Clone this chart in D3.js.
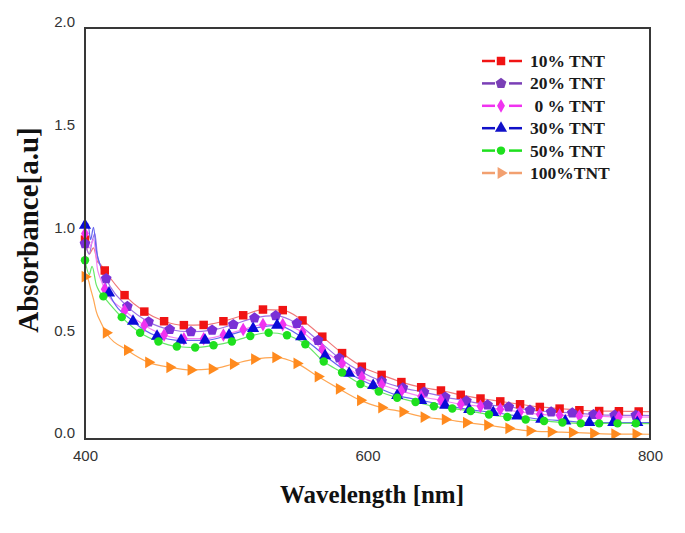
<!DOCTYPE html>
<html><head><meta charset="utf-8">
<script src="https://cdn.jsdelivr.net/npm/d3@7"></script>
<style>body{margin:0;background:#fff} svg{display:block}</style>
</head><body><svg id="c" width="685" height="533"></svg>
<script>
// ---------- data ----------
const seriesNames = ["10% TNT", "20% TNT", " 0 % TNT", "30% TNT", "50% TNT", "100%TNT"];
const xTickValues = [400, 600, 800];
const xTickLabels = ["400", "600", "800"];
const yTickValues = [0, 0.5, 1, 1.5, 2];
const yTickLabels = ["0.0", "0.5", "1.0", "1.5", "2.0"];

// 10% TNT
const wl10 = [400,414,428,442,456,470,484,498,512,526,540,554,568,582,596,610,624,638,652,666,680,694,708,722,736,750,764,778,792];
const ab10 = [0.97,0.82,0.70,0.62,0.573,0.554,0.555,0.573,0.602,0.63,0.627,0.577,0.498,0.418,0.352,0.312,0.277,0.252,0.236,0.215,0.197,0.183,0.169,0.156,0.148,0.140,0.136,0.135,0.134];
const head10 = [[403,0.90],[406,0.93],[409,0.86],[411,0.85]];
const tail10 = [800,0.133];
// 20% TNT
const wl20 = [400,415,430,445,460,475,490,505,520,535,550,565,580,595,610,625,640,655,670,685,700,715,730,745,760,775,790];
const ab20 = [0.95,0.78,0.645,0.57,0.533,0.522,0.53,0.557,0.589,0.60,0.562,0.48,0.394,0.328,0.281,0.249,0.228,0.204,0.185,0.166,0.156,0.14,0.132,0.127,0.119,0.116,0.115];
const head20 = [[403,0.90],[405,0.96],[407,1.0],[409,0.88],[412,0.83]];
const tail20 = [800,0.114];
// 0 % TNT
const wl0 = [400,414,428,442,456,470,484,498,512,526,540,554,568,582,596,610,624,638,652,666,680,694,708,722,736,750,764,778,792];
const ab0 = [1.00,0.729,0.625,0.553,0.506,0.488,0.488,0.506,0.533,0.557,0.557,0.52,0.437,0.368,0.30,0.264,0.233,0.207,0.188,0.169,0.159,0.145,0.132,0.12,0.116,0.112,0.111,0.107,0.107];
const head0 = [[403,0.93],[406,0.97],[409,0.82],[411,0.78]];
const tail0 = [800,0.106];
// 30% TNT
const wl30 = [400,417,434,451,468,485,502,519,536,553,570,587,604,621,638,655,672,689,706,723,740,757,774,791];
const ab30 = [1.04,0.71,0.573,0.50,0.48,0.48,0.506,0.538,0.553,0.498,0.405,0.32,0.26,0.212,0.188,0.164,0.143,0.129,0.112,0.096,0.088,0.08,0.08,0.08];
const head30 = [[402,1.05],[404,0.97],[406,1.03],[408,0.92],[411,0.84],[414,0.77]];
const tail30 = [800,0.08];
// 50% TNT
const wl50 = [400,413,426,439,452,465,478,491,504,517,530,543,556,569,582,595,608,621,634,647,660,673,686,699,712,725,738,751,764,777,790];
const ab50 = [0.87,0.694,0.593,0.517,0.474,0.45,0.445,0.456,0.474,0.501,0.517,0.505,0.461,0.377,0.324,0.268,0.231,0.201,0.18,0.159,0.148,0.136,0.119,0.107,0.095,0.088,0.08,0.076,0.076,0.076,0.076];
const head50 = [[403,0.80],[405,0.84],[408,0.75],[410,0.72]];
const tail50 = [800,0.075];
// 100% TNT
const wl100 = [400,415,430,445,460,475,490,505,520,535,550,565,580,595,610,625,640,655,670,685,700,715,730,745,760,775,790];
const ab100 = [0.79,0.517,0.432,0.373,0.349,0.336,0.341,0.365,0.389,0.397,0.368,0.304,0.244,0.188,0.153,0.132,0.107,0.095,0.08,0.067,0.052,0.04,0.035,0.032,0.027,0.024,0.024];
const head100 = [[402,0.78],[404,0.73],[406,0.68],[408,0.62],[411,0.57]];
const tail100 = [800,0.023];

// ---------- styles ----------
const markerColors = ["#f01414", "#7a2fd6", "#f032f0", "#0a0ad8", "#1ee01e", "#ff8a1e"];
const lineColors   = ["#f07878", "#9e72e6", "#f484f4", "#6464f0", "#66e866", "#ffa652"];
const legendColors = ["#f01414", "#7a3fb6", "#f032f0", "#1010c8", "#1ee01e", "#f2a070"];

const pentagon = {
  draw(ctx, size) {
    const r = Math.sqrt(size / 2.378);
    for (let i = 0; i < 5; i++) {
      const a = -Math.PI / 2 + i * 2 * Math.PI / 5;
      const px = r * Math.cos(a), py = r * Math.sin(a);
      if (i === 0) ctx.moveTo(px, py); else ctx.lineTo(px, py);
    }
    ctx.closePath();
  }
};
const symbolTypes = [d3.symbolSquare, pentagon, d3.symbolDiamond, d3.symbolTriangle, d3.symbolCircle, d3.symbolTriangle];
const symbolSizes = [72, 76, 54, 64, 56, 60];
const symbolRot = [0, 0, 0, 0, 0, 90];

const wls = [wl10, wl20, wl0, wl30, wl50, wl100];
const abs = [ab10, ab20, ab0, ab30, ab50, ab100];
const heads = [head10, head20, head0, head30, head50, head100];
const tails = [tail10, tail20, tail0, tail30, tail50, tail100];

// ---------- chart ----------
const svg = d3.select("#c");
const x = d3.scaleLinear().domain([400, 800]).range([85, 650]);
const y = d3.scaleLinear().domain([0, 2]).range([439, 28]);

const tickFont = "'Liberation Sans', Arial, sans-serif";
const titleFont = "'Liberation Serif', 'Times New Roman', serif";

// axes (labels only)
const gy = svg.append("g").attr("transform", `translate(${x.range()[0]},0)`)
  .call(d3.axisLeft(y).tickValues(yTickValues).tickFormat((d, i) => yTickLabels[i]).tickSize(0).tickPadding(10));
gy.select(".domain").remove();
gy.selectAll("text").attr("dy", "-0.08em").attr("fill", "#333").style("font-family", tickFont).style("font-size", "15px");

const gx = svg.append("g").attr("transform", `translate(0,${y.range()[0]})`)
  .call(d3.axisBottom(x).tickValues(xTickValues).tickFormat((d, i) => xTickLabels[i]).tickSize(0).tickPadding(11));
gx.select(".domain").remove();
gx.selectAll("text").attr("fill", "#333").style("font-family", tickFont).style("font-size", "15px");

// series
const line = d3.line().x(d => x(d[0])).y(d => y(d[1])).curve(d3.curveMonotoneX);
wls.forEach((w, s) => {
  const pts = w.map((v, i) => [v, abs[s][i]]);
  const linePts = [pts[0]].concat(heads[s], pts.slice(1), [tails[s]]);
  svg.append("path").attr("d", line(linePts)).attr("fill", "none")
    .attr("stroke", lineColors[s]).attr("stroke-width", 1.2);
});
wls.forEach((w, s) => {
  const sym = d3.symbol().type(symbolTypes[s]).size(symbolSizes[s]);
  svg.append("g").selectAll("path").data(w.map((v, i) => [v, abs[s][i]])).join("path")
    .attr("d", sym)
    .attr("transform", d => `translate(${x(d[0])},${y(d[1])}) rotate(${symbolRot[s]})`)
    .attr("fill", markerColors[s]);
});

// frame
svg.append("rect").attr("x", x.range()[0]).attr("y", y.range()[1])
  .attr("width", x.range()[1] - x.range()[0]).attr("height", y.range()[0] - y.range()[1])
  .attr("fill", "none").attr("stroke", "#383838").attr("stroke-width", 2);

// titles
svg.append("text").attr("x", 372).attr("y", 503).attr("text-anchor", "middle")
  .style("font-family", titleFont).style("font-weight", "bold").style("font-size", "25px")
  .attr("fill", "#111").text("Wavelength [nm]");
svg.append("text").attr("transform", "translate(38,230) rotate(-90)").attr("text-anchor", "middle")
  .style("font-family", titleFont).style("font-weight", "bold").style("font-size", "29px")
  .attr("fill", "#111").text("Absorbance[a.u]");

// legend
const lg = svg.append("g");
seriesNames.forEach((name, s) => {
  const ly = 61 + s * 22.4;
  const g = lg.append("g");
  g.append("line").attr("x1", 482).attr("x2", 495).attr("y1", ly).attr("y2", ly)
    .attr("stroke", legendColors[s]).attr("stroke-width", 2.5);
  g.append("line").attr("x1", 509).attr("x2", 522).attr("y1", ly).attr("y2", ly)
    .attr("stroke", legendColors[s]).attr("stroke-width", 2.5);
  g.append("path").attr("d", d3.symbol().type(symbolTypes[s]).size(symbolSizes[s])())
    .attr("transform", `translate(501,${ly}) rotate(${symbolRot[s]})`).attr("fill", legendColors[s]);
  g.append("text").attr("x", 530).attr("y", ly + 6).attr("xml:space", "preserve")
    .style("white-space", "pre")
    .style("font-family", titleFont).style("font-weight", "bold").style("font-size", "17.5px")
    .attr("fill", "#1a1a1a").text(name);
});
</script>
</body></html>
